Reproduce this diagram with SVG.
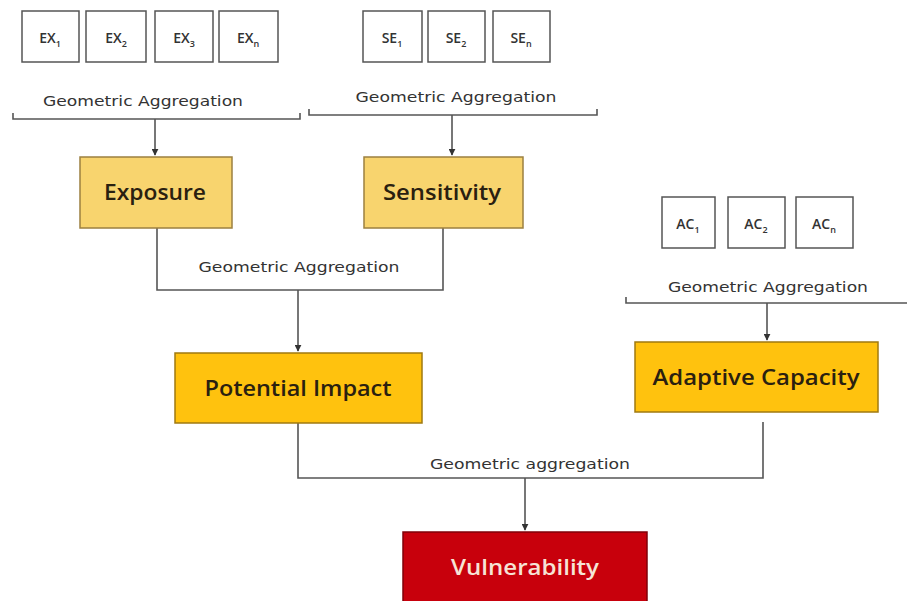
<svg xmlns="http://www.w3.org/2000/svg" width="907" height="601" viewBox="0 0 907 601">
<style>
.bg{fill:#ffffff}
.ind rect{fill:#ffffff;stroke:#555555;stroke-width:1.5}
.ind text{font-family:"Open Sans","DejaVu Sans",sans-serif;font-size:14px;font-weight:600;fill:#333333;text-anchor:middle}
.sub{font-size:9px}
.lbl{font-family:"DejaVu Sans","Open Sans",sans-serif;font-size:14.5px;fill:#333333;text-anchor:middle}
.conn path{fill:none;stroke:#555555;stroke-width:1.6}
.light rect{fill:#F8D46E;stroke:#9C8040;stroke-width:1.5}
.dark rect{fill:#FFC20E;stroke:#A07A10;stroke-width:1.5}
.box text{font-family:"Open Sans","DejaVu Sans",sans-serif;font-size:22px;font-weight:600;fill:#2a2010;text-anchor:middle}
.red rect{fill:#C8000C;stroke:#800008;stroke-width:1.5}
.red text{fill:#F6E4D6}
</style>
<defs>
<marker id="ah" viewBox="0 0 10 10" refX="9" refY="5" markerWidth="7" markerHeight="7" orient="auto" markerUnits="userSpaceOnUse">
<path d="M0,0 L10,5 L0,10 z" fill="#333333"/>
</marker>
</defs>
<rect class="bg" x="0" y="0" width="907" height="601"/>

<g id="ex-inputs" class="ind">
<g id="ex1"><rect x="22" y="11" width="57" height="51"/><text x="50" y="43">EX<tspan class="sub" dy="4">1</tspan></text></g>
<g id="ex2"><rect x="86" y="11" width="60" height="51"/><text x="116" y="43">EX<tspan class="sub" dy="4">2</tspan></text></g>
<g id="ex3"><rect x="155" y="11" width="58" height="51"/><text x="184" y="43">EX<tspan class="sub" dy="4">3</tspan></text></g>
<g id="exn"><rect x="219" y="11" width="59" height="51"/><text x="248" y="43">EX<tspan class="sub" dy="4">n</tspan></text></g>
</g>

<g id="se-inputs" class="ind">
<g id="se1"><rect x="363" y="11" width="59" height="51"/><text x="392" y="43">SE<tspan class="sub" dy="4">1</tspan></text></g>
<g id="se2"><rect x="428" y="11" width="57" height="51"/><text x="456" y="43">SE<tspan class="sub" dy="4">2</tspan></text></g>
<g id="sen"><rect x="493" y="11" width="57" height="51"/><text x="521" y="43">SE<tspan class="sub" dy="4">n</tspan></text></g>
</g>

<g id="ac-inputs" class="ind">
<g id="ac1"><rect x="662" y="197" width="53" height="51"/><text x="688" y="229">AC<tspan class="sub" dy="4">1</tspan></text></g>
<g id="ac2"><rect x="728" y="197" width="57" height="51"/><text x="756" y="229">AC<tspan class="sub" dy="4">2</tspan></text></g>
<g id="acn"><rect x="796" y="197" width="57" height="51"/><text x="824" y="229">AC<tspan class="sub" dy="4">n</tspan></text></g>
</g>

<g id="connectors" class="conn">
<path d="M13,113 V119 H300 V113"/>
<path d="M155,119 V155" marker-end="url(#ah)"/>
<path d="M309,109 V115 H597 V109"/>
<path d="M452,115 V155" marker-end="url(#ah)"/>
<path d="M157,228 V290 H443 V228"/>
<path d="M298,290 V351" marker-end="url(#ah)"/>
<path d="M626,297 V303 H907"/>
<path d="M767,303 V340" marker-end="url(#ah)"/>
<path d="M298,423 V478 H763 V422"/>
<path d="M525,478 V530" marker-end="url(#ah)"/>
</g>

<g id="labels">
<text class="lbl" x="143" y="106" textLength="200" lengthAdjust="spacingAndGlyphs">Geometric Aggregation</text>
<text class="lbl" x="456" y="102" textLength="201" lengthAdjust="spacingAndGlyphs">Geometric Aggregation</text>
<text class="lbl" x="299" y="272" textLength="201" lengthAdjust="spacingAndGlyphs">Geometric Aggregation</text>
<text class="lbl" x="768" y="292" textLength="200" lengthAdjust="spacingAndGlyphs">Geometric Aggregation</text>
<text class="lbl" x="530" y="469" textLength="200" lengthAdjust="spacingAndGlyphs">Geometric aggregation</text>
</g>

<g id="exposure" class="box light"><rect x="80" y="157" width="152" height="71"/><text x="155" y="200" textLength="102" lengthAdjust="spacingAndGlyphs">Exposure</text></g>
<g id="sensitivity" class="box light"><rect x="364" y="157" width="159" height="71"/><text x="442" y="200" textLength="118" lengthAdjust="spacingAndGlyphs">Sensitivity</text></g>
<g id="potential-impact" class="box dark"><rect x="175" y="353" width="247" height="70"/><text x="298" y="396" textLength="187" lengthAdjust="spacingAndGlyphs">Potential Impact</text></g>
<g id="adaptive-capacity" class="box dark"><rect x="635" y="342" width="243" height="70"/><text x="756" y="385" textLength="207" lengthAdjust="spacingAndGlyphs">Adaptive Capacity</text></g>
<g id="vulnerability" class="box red"><rect x="403" y="532" width="244" height="75"/><text x="525" y="575" textLength="148" lengthAdjust="spacingAndGlyphs">Vulnerability</text></g>
</svg>
